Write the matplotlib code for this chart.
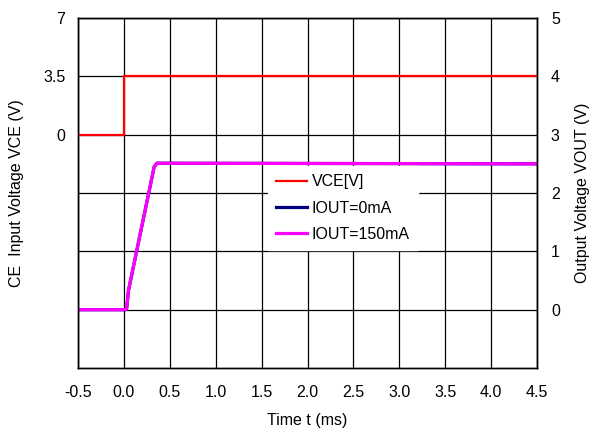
import matplotlib
matplotlib.use('Agg')
import matplotlib.pyplot as plt

plt.rcParams['font.family'] = ['Liberation Sans', 'DejaVu Sans']

# CE input voltage (left axis, V)
t_vce = [-0.5, 0.0, 0.0, 4.5]
vce = [0.0, 0.0, 3.5, 3.5]

# output voltage (right axis, V)
t_out = [-0.5, 0.02, 0.03, 0.05, 0.33, 0.36, 0.40, 4.5]
vout_0ma = [0.0, 0.0, 0.02, 0.33, 2.45, 2.51, 2.51, 2.50]
vout_150ma = [0.0, 0.0, 0.02, 0.33, 2.45, 2.51, 2.51, 2.50]

x_ticks = [-0.5, 0.0, 0.5, 1.0, 1.5, 2.0, 2.5, 3.0, 3.5, 4.0, 4.5]
left_ticks = [0, 3.5, 7]
right_ticks = [0, 1, 2, 3, 4, 5]

fs = 11.5

fig = plt.figure(figsize=(5.92, 4.28), dpi=100)
ax = fig.add_axes([78 / 592, 1 - 368 / 428, 459 / 592, 350 / 428])
ax2 = ax.twinx()

# keep the red trace above the right-axis grid
ax.set_zorder(ax2.get_zorder() + 1)
ax.patch.set_visible(False)

ax2.xaxis.set_visible(True)
ax2.tick_params(axis='x', labelbottom=False, labeltop=False, length=0)
ax2.grid(True, color='black', linewidth=0.9)
ax2.set_axisbelow(True)

l1, = ax.plot(t_vce, vce, color='#ff0000', linewidth=1.6, label='VCE[V]')
l2, = ax2.plot(t_out, vout_0ma, color='#000080', linewidth=2.3, label='IOUT=0mA')
l3, = ax2.plot(t_out, vout_150ma, color='#ff00ff', linewidth=2.3, label='IOUT=150mA')

ax.set_xlim(-0.5, 4.5)
ax.set_ylim(-14, 7)
ax2.set_ylim(-1, 5)
ax.set_xticks(x_ticks)
ax.set_xticklabels([f'{v:.1f}' for v in x_ticks])
ax2.set_xticks(x_ticks)
ax.set_yticks(left_ticks)
ax.set_yticklabels(['0', '3.5', '7'])
ax2.set_yticks(right_ticks)

ax.tick_params(axis='both', length=0, labelsize=fs)
ax.tick_params(axis='x', pad=12)
ax.tick_params(axis='y', pad=9)
ax2.tick_params(axis='y', length=0, labelsize=fs, pad=10)

for a in (ax, ax2):
    for s in a.spines.values():
        s.set_linewidth(1.0)
        s.set_color('black')

ax.set_xlabel('Time t (ms)', fontsize=fs)
ax.set_ylabel('CE  Input Voltage VCE (V)', fontsize=fs)
ax2.set_ylabel('Output Voltage VOUT (V)', fontsize=fs)
ax.xaxis.set_label_coords(0.5, (368 - 420) / 350)
ax.xaxis.label.set_va('center')
ax.yaxis.set_label_coords((17 - 78) / 459, 0.5)
ax.yaxis.label.set_va('center')
ax2.yaxis.set_label_coords((582 - 78) / 459, 0.5)
ax2.yaxis.label.set_va('center')

leg = ax.legend([l1, l2, l3], [l.get_label() for l in (l1, l2, l3)],
                loc='upper left', bbox_to_anchor=(0.415, 0.576), borderaxespad=0,
                frameon=True, fancybox=False, edgecolor='white', facecolor='white',
                framealpha=1, fontsize=fs, handlelength=1.9, handletextpad=0.3,
                labelspacing=0.7, borderpad=0.5)

fig.savefig('out.png', dpi=100)
